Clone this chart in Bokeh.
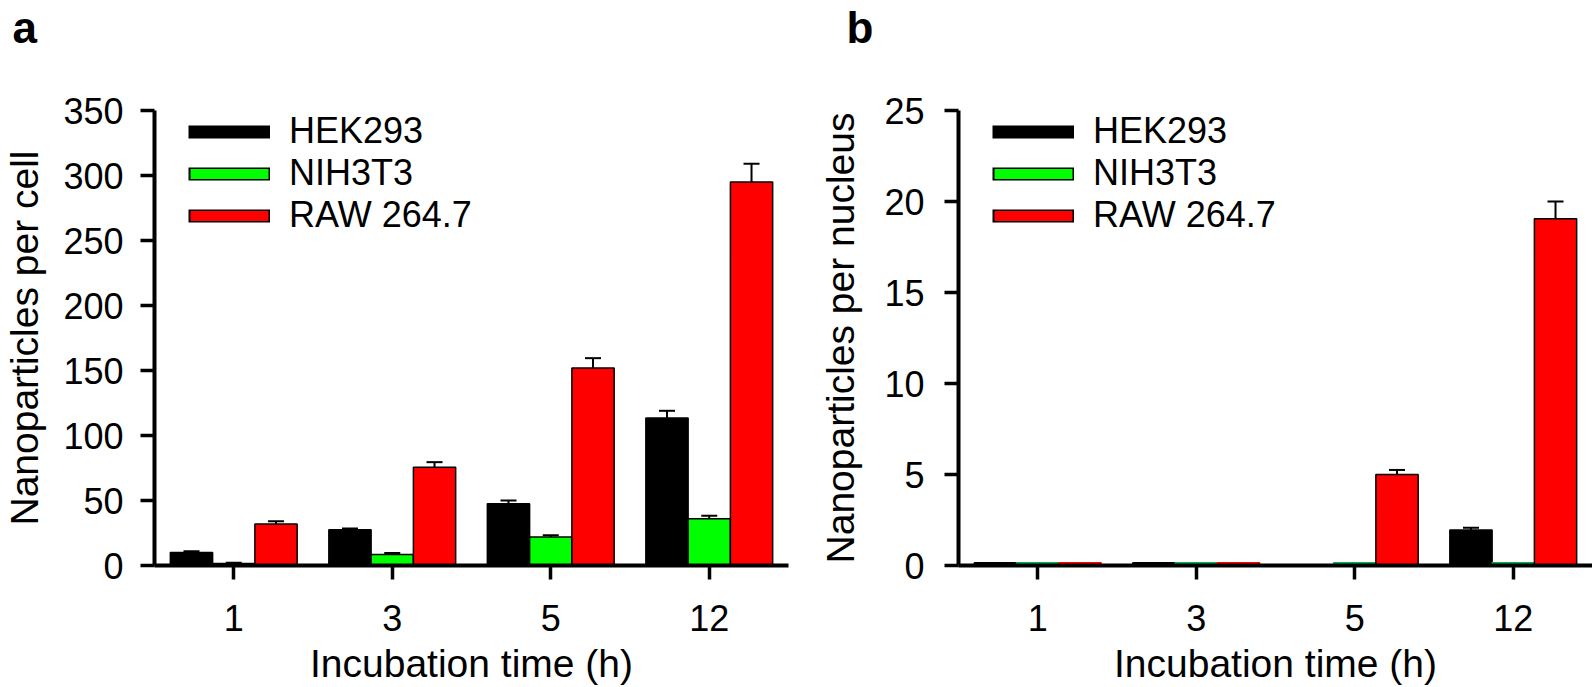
from bokeh.plotting import figure
from bokeh.models import (ColumnDataSource, FactorRange, Range1d, Whisker, TeeHead,
                          Legend, LegendItem, FixedTicker, Title)
from bokeh.transform import dodge
from bokeh.layouts import row
from bokeh.embed import file_html
from bokeh.resources import INLINE

# ---------------- data ----------------
times = ["1", "3", "5", "12"]
series = ["HEK293", "NIH3T3", "RAW 264.7"]

a_hek = [10.0, 27.5, 47.5, 113.5]
a_hek_err = [11.0, 28.5, 50.0, 119.0]
a_nih = [1.6, 8.5, 22.0, 36.0]
a_nih_err = [2.2, 9.6, 23.3, 38.2]
a_raw = [32.0, 75.5, 152.0, 295.0]
a_raw_err = [34.0, 79.5, 159.5, 309.0]

b_hek = [0.15, 0.15, 0.0, 1.95]
b_hek_err = [None, None, None, 2.08]
b_nih = [0.15, 0.15, 0.15, 0.15]
b_nih_err = [None, None, None, None]
b_raw = [0.15, 0.15, 5.0, 19.05]
b_raw_err = [None, None, 5.25, 20.0]

a_ticks = [0, 50, 100, 150, 200, 250, 300, 350]
b_ticks = [0, 5, 10, 15, 20, 25]

FONT = "Liberation Sans"
BLACK, GREEN, RED = "#000000", "#00FF00", "#FF0000"
DARKGREEN = "#00B050"
W = 0.2667
OFFS = [-W, 0.0, W]


def make_panel(letter, ylabel, ymax, ticks, vals, errs, fills, lines,
               width, mbl, mbr, letter_offset, ytick_standoff, ylab_standoff):
    p = figure(x_range=FactorRange(factors=times), y_range=Range1d(0, ymax),
               width=width, height=687, output_backend="svg", toolbar_location=None,
               min_border_left=mbl, min_border_right=mbr, min_border_top=110,
               min_border_bottom=121)
    p.outline_line_color = None
    p.xgrid.grid_line_color = None
    p.ygrid.grid_line_color = None

    # spacer title (nearest the frame) and panel letter above it
    p.add_layout(Title(text=" ", text_font=FONT, text_font_size="10px", standoff=44), "above")
    p.add_layout(Title(text=letter, text_font=FONT, text_font_size="44px",
                       text_font_style="bold", text_color="black", align="left",
                       vertical_align="top", offset=letter_offset, standoff=0), "above")

    for k in range(3):
        src = ColumnDataSource(dict(time=times, v=vals[k], fc=fills[k], lc=lines[k]))
        p.vbar(x=dodge("time", OFFS[k], range=p.x_range), top="v", width=W, source=src,
               fill_color="fc", line_color="lc", line_width=1.5)
        et = [t for t, e in zip(times, errs[k]) if e is not None]
        ev = [v for v, e in zip(vals[k], errs[k]) if e is not None]
        ee = [e for e in errs[k] if e is not None]
        if et:
            wsrc = ColumnDataSource(dict(time=et, v=ev, e=ee))
            wh = Whisker(source=wsrc, base=dodge("time", OFFS[k], range=p.x_range),
                         lower="v", upper="e", line_width=2, line_color="black",
                         lower_head=None,
                         upper_head=TeeHead(size=16, line_width=2, line_color="black"))
            p.add_layout(wh)

    # legend swatches (line glyphs drawn only inside the legend)
    items = []
    for name, col in zip(series, [BLACK, GREEN, RED]):
        r_out = p.line(x=[times[0]], y=[0], line_color="black", line_width=13)
        rs = [r_out]
        if col != BLACK:
            r_in = p.line(x=[times[0]], y=[0], line_color=col, line_width=10,
                          line_dash="0 2 78 2")
            rs.append(r_in)
        items.append(LegendItem(label=name, renderers=rs))
    leg = Legend(items=items, location=(34, 329), padding=0, spacing=0, margin=0,
                 glyph_width=82, glyph_height=41, label_height=41, label_standoff=19,
                 label_text_font=FONT, label_text_font_size="36px",
                 label_text_color="black",
                 border_line_color=None, background_fill_alpha=0)
    p.add_layout(leg, "center")

    for ax in (p.xaxis, p.yaxis):
        ax.axis_line_width = 4
        ax.axis_line_color = "black"
        ax.major_tick_line_width = 3.5
        ax.major_tick_line_color = "black"
        ax.major_tick_out = 14
        ax.major_tick_in = 0
        ax.minor_tick_line_color = None
        ax.major_label_text_font = FONT
        ax.major_label_text_font_size = "36px"
        ax.major_label_text_color = "black"
        ax.axis_label_text_font = FONT
        ax.axis_label_text_font_size = "39px"
        ax.axis_label_text_font_style = "normal"
        ax.axis_label_text_color = "black"
    p.yaxis.ticker = FixedTicker(ticks=ticks)
    p.yaxis.major_label_standoff = ytick_standoff
    p.yaxis.axis_label = ylabel
    p.yaxis.axis_label_standoff = ylab_standoff
    p.xaxis.axis_label = "Incubation time (h)"
    p.xaxis.major_label_standoff = 25
    p.xaxis.axis_label_standoff = 8
    return p


pa = make_panel("a", "Nanoparticles per cell", 350, a_ticks,
                [a_hek, a_nih, a_raw], [a_hek_err, a_nih_err, a_raw_err],
                [[BLACK] * 4, [GREEN] * 4, [RED] * 4],
                [[BLACK] * 4, [BLACK] * 4, [BLACK] * 4],
                796, 150, 8, -142, 17, 14)

pb = make_panel("b", "Nanoparticles per nucleus", 25, b_ticks,
                [b_hek, b_nih, b_raw], [b_hek_err, b_nih_err, b_raw_err],
                [[BLACK] * 4, [DARKGREEN] * 4, [RED] * 4],
                [[BLACK] * 4, [DARKGREEN] * 4, [RED, RED, BLACK, BLACK]],
                796, 162, 0, -112, 20, 19)

layout = row(pa, pb)
open("out.html", "w").write(file_html(layout, INLINE))
